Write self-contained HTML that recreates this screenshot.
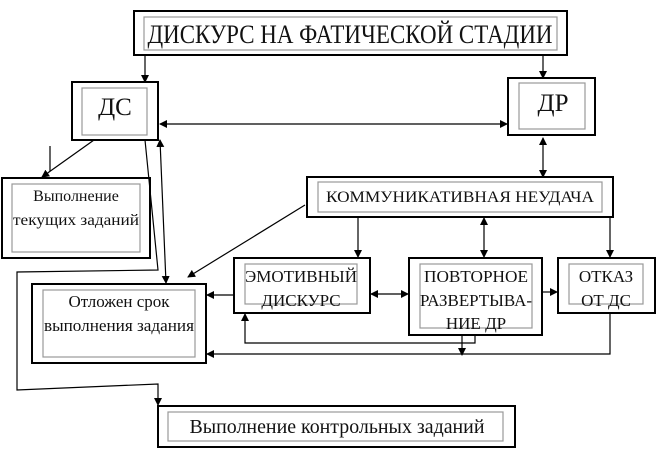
<!DOCTYPE html>
<html><head><meta charset="utf-8"><style>
html,body{margin:0;padding:0;background:#fff;}
svg{display:block;font-family:"Liberation Serif",serif;}
text{font-family:"Liberation Serif",serif;fill:#111;}
</style></head><body>
<svg width="669" height="464" viewBox="0 0 669 464" xmlns="http://www.w3.org/2000/svg">
<defs>
<marker id="a" markerWidth="8" markerHeight="8" refX="7" refY="4" orient="auto" markerUnits="userSpaceOnUse">
<path d="M0,0 L8,4 L0,8 Z" fill="#000"/></marker>
<marker id="s" markerWidth="8" markerHeight="8" refX="1" refY="4" orient="auto" markerUnits="userSpaceOnUse">
<path d="M8,0 L0,4 L8,8 Z" fill="#000"/></marker>
</defs>
<g fill="none" stroke="#000" stroke-width="2">
<rect x="134" y="11" width="433" height="44"/>
<rect x="72" y="82" width="86" height="58"/>
<rect x="508" y="78" width="87" height="57"/>
<rect x="2" y="178" width="148" height="80"/>
<rect x="307" y="177" width="306" height="40"/>
<rect x="32" y="284" width="174" height="79"/>
<rect x="234" y="258" width="136" height="55"/>
<rect x="409" y="258" width="133" height="77"/>
<rect x="558" y="258" width="97" height="55"/>
<rect x="158" y="406" width="357" height="41"/>
</g>
<g fill="none" stroke="#999" stroke-width="1.2">
<rect x="144" y="17" width="413" height="33"/>
<rect x="82" y="88" width="65" height="47"/>
<rect x="519" y="83" width="66" height="46"/>
<rect x="12" y="184" width="128" height="68"/>
<rect x="318" y="182" width="284" height="30"/>
<rect x="43" y="290" width="152" height="67"/>
<rect x="245" y="264" width="112" height="40"/>
<rect x="420" y="264" width="112" height="64"/>
<rect x="569" y="264" width="74" height="40"/>
<rect x="168" y="412" width="335" height="29"/>
</g>
<g fill="none" stroke="#000" stroke-width="1.2">
<line x1="145" y1="55" x2="145" y2="82" marker-end="url(#a)"/>
<line x1="543" y1="55" x2="543" y2="78" marker-end="url(#a)"/>
<line x1="160" y1="124" x2="507" y2="124" marker-start="url(#s)" marker-end="url(#a)"/>
<line x1="543" y1="138" x2="543" y2="177" marker-start="url(#s)" marker-end="url(#a)"/>
<line x1="94" y1="140" x2="42" y2="177" marker-end="url(#a)"/>
<line x1="50" y1="146" x2="50" y2="171"/>
<polyline points="145,140 158,270 17,272 17,390 158,384 158,405" marker-end="url(#a)"/>
<line x1="160" y1="140" x2="166" y2="283" marker-start="url(#s)" marker-end="url(#a)"/>
<line x1="305" y1="205" x2="188" y2="277" marker-end="url(#a)"/>
<line x1="358" y1="217" x2="358" y2="257" marker-end="url(#a)"/>
<line x1="484" y1="218" x2="484" y2="257" marker-start="url(#s)" marker-end="url(#a)"/>
<line x1="610" y1="217" x2="610" y2="257" marker-end="url(#a)"/>
<line x1="371" y1="294" x2="408" y2="294" marker-start="url(#s)" marker-end="url(#a)"/>
<line x1="543" y1="292" x2="557" y2="292" marker-end="url(#a)"/>
<line x1="234" y1="295" x2="207" y2="295" marker-end="url(#a)"/>
<polyline points="475,335 475,343 245,343 245,314" marker-end="url(#a)"/>
<line x1="462" y1="335" x2="462" y2="355" marker-end="url(#a)"/>
<polyline points="610,313 610,354 207,354" marker-end="url(#a)"/>
</g>
<g font-family="Liberation Serif, serif" fill="#111">
<text x="350" y="43" font-size="26" text-anchor="middle" textLength="405" lengthAdjust="spacingAndGlyphs">ДИСКУРС НА ФАТИЧЕСКОЙ СТАДИИ</text>
<text x="115" y="115" font-size="25" text-anchor="middle">ДС</text>
<text x="553" y="111" font-size="25" text-anchor="middle">ДР</text>
<text x="76" y="201" font-size="16" text-anchor="middle">Выполнение</text>
<text x="76" y="225" font-size="16" text-anchor="middle" textLength="126" lengthAdjust="spacingAndGlyphs">текущих заданий</text>
<text x="460" y="202" font-size="16" text-anchor="middle" textLength="268" lengthAdjust="spacingAndGlyphs">КОММУНИКАТИВНАЯ НЕУДАЧА</text>
<text x="119" y="307" font-size="17" text-anchor="middle">Отложен срок</text>
<text x="119" y="331" font-size="17" text-anchor="middle" textLength="150" lengthAdjust="spacingAndGlyphs">выполнения задания</text>
<text x="301" y="282" font-size="17" text-anchor="middle" textLength="112" lengthAdjust="spacingAndGlyphs">ЭМОТИВНЫЙ</text>
<text x="301" y="306" font-size="17" text-anchor="middle">ДИСКУРС</text>
<text x="476" y="282" font-size="17" text-anchor="middle" textLength="104" lengthAdjust="spacingAndGlyphs">ПОВТОРНОЕ</text>
<text x="476" y="306" font-size="17" text-anchor="middle" textLength="112" lengthAdjust="spacingAndGlyphs">РАЗВЕРТЫВА-</text>
<text x="476" y="329" font-size="17" text-anchor="middle">НИЕ ДР</text>
<text x="606" y="282" font-size="17" text-anchor="middle">ОТКАЗ</text>
<text x="606" y="306" font-size="17" text-anchor="middle">ОТ ДС</text>
<text x="337" y="433" font-size="20" text-anchor="middle" textLength="295" lengthAdjust="spacingAndGlyphs">Выполнение контрольных заданий</text>
</g>
</svg>
</body></html>
